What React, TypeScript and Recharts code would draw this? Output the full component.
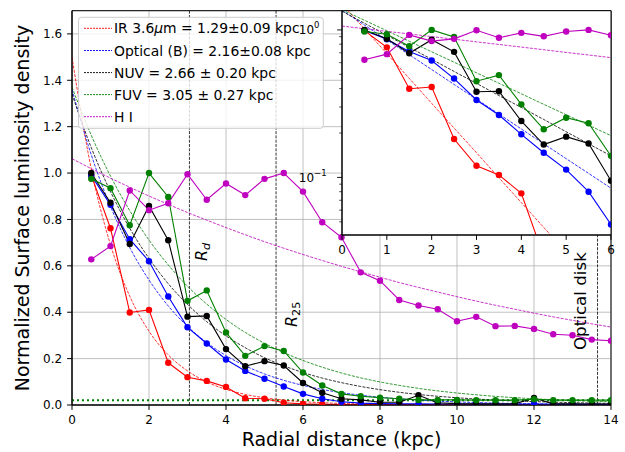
import React from 'react';
import { LineChart, Line, XAxis, YAxis, CartesianGrid, ReferenceLine, ReferenceArea } from 'recharts';

// ---- data ----
const radii = [0.5, 1, 1.5, 2, 2.5, 3, 3.5, 4, 4.5, 5, 5.5, 6, 6.5, 7, 7.5, 8, 8.5, 9, 9.5, 10, 10.5, 11, 11.5, 12, 12.5, 13, 13.5, 14];
const irValues = [0.99, 0.762, 0.399, 0.41, 0.182, 0.12, 0.104, 0.078, 0.029, 0.027, 0.0095, 0.005, 0.003, 0.002, 0.002, 0.0015, 0.0015, 0.001, 0.001, 0.001, 0.001, 0.001, 0.001, 0.001, 0.001, 0.001, 0.001, 0.001];
const opticalValues = [0.99, 0.863, 0.715, 0.62, 0.468, 0.335, 0.265, 0.196, 0.147, 0.113, 0.08, 0.048, 0.027, 0.014, 0.008, 0.006, 0.005, 0.005, 0.004, 0.004, 0.004, 0.003, 0.003, 0.004, 0.003, 0.003, 0.003, 0.003];
const nuvValues = [1.0, 0.872, 0.694, 0.858, 0.71, 0.381, 0.384, 0.241, 0.167, 0.189, 0.17, 0.095, 0.053, 0.027, 0.022, 0.012, 0.012, 0.042, 0.01, 0.006, 0.005, 0.005, 0.005, 0.03, 0.005, 0.005, 0.004, 0.004];
const fuvValues = [0.975, 0.935, 0.775, 1.0, 0.897, 0.449, 0.494, 0.313, 0.212, 0.254, 0.233, 0.14, 0.084, 0.048, 0.038, 0.032, 0.027, 0.022, 0.022, 0.022, 0.021, 0.021, 0.021, 0.025, 0.021, 0.021, 0.021, 0.021];
const hiValues = [0.628, 0.685, 0.925, 0.84, 0.87, 0.995, 0.885, 0.955, 0.905, 0.975, 1.0, 0.92, 0.788, 0.723, 0.572, 0.536, 0.453, 0.429, 0.413, 0.361, 0.38, 0.34, 0.341, 0.328, 0.305, 0.301, 0.282, 0.277];

// fitted exponential profiles, read at 0.5 kpc steps
const fitRadii = [0, 0.5, 1, 1.5, 2, 2.5, 3, 3.5, 4, 4.5, 5, 5.5, 6, 6.5, 7, 7.5, 8, 8.5, 9, 9.5, 10, 10.5, 11, 11.5, 12, 12.5, 13, 13.5, 14];
const irFit = [1.5, 1.018, 0.691, 0.469, 0.318, 0.216, 0.147, 0.0995, 0.0675, 0.0458, 0.0311, 0.0211, 0.0143, 0.0097, 0.0066, 0.0045, 0.003, 0.002, 0.0014, 0.001, 0.0007, 0.0005, 0.0003, 0.0002, 0.0002, 0.0001, 0.0001, 0.0001, 0.0001];
const opticalFit = [1.36, 1.079, 0.856, 0.679, 0.539, 0.427, 0.339, 0.269, 0.213, 0.169, 0.134, 0.1065, 0.0845, 0.067, 0.0532, 0.0422, 0.0335, 0.0265, 0.0211, 0.0167, 0.0133, 0.0105, 0.0083, 0.0066, 0.0053, 0.0042, 0.0033, 0.0026, 0.0021];
const nuvFit = [1.34, 1.11, 0.92, 0.762, 0.632, 0.523, 0.434, 0.359, 0.298, 0.247, 0.204, 0.169, 0.14, 0.116, 0.0964, 0.0799, 0.0662, 0.0548, 0.0454, 0.0377, 0.0312, 0.0259, 0.0214, 0.0178, 0.0147, 0.0122, 0.0101, 0.0084, 0.0069];
const fuvFit = [1.37, 1.163, 0.987, 0.838, 0.711, 0.604, 0.512, 0.435, 0.369, 0.313, 0.266, 0.226, 0.192, 0.163, 0.138, 0.117, 0.0995, 0.0845, 0.0717, 0.0609, 0.0517, 0.0439, 0.0372, 0.0316, 0.0268, 0.0228, 0.0193, 0.0164, 0.0139];
const hiFit = [1.062, 1.019, 0.978, 0.939, 0.901, 0.865, 0.83, 0.797, 0.765, 0.734, 0.704, 0.676, 0.649, 0.623, 0.598, 0.574, 0.551, 0.528, 0.507, 0.487, 0.467, 0.448, 0.43, 0.413, 0.396, 0.38, 0.365, 0.35, 0.336];

const skyLevel = 0.021;
const rdRadius = 3.05;
const r25Radius = 5.3;
const opticalDiskRadius = 13.65;

const mainXTicks = [0, 2, 4, 6, 8, 10, 12, 14];
const mainYTicks = [0, 0.2, 0.4, 0.6, 0.8, 1.0, 1.2, 1.4, 1.6];
const insetXTicks = [0, 1, 2, 3, 4, 5, 6];
const insetYTicks = [0.05, 0.06, 0.07, 0.08, 0.09, 0.1, 0.2, 0.3, 0.4, 0.5, 0.6, 0.7, 0.8, 0.9, 1];
const insetMajorTicks = [1, 0.1];
const insetMajorLabels = ['0', '\u22121'];

const legendLabels = ['IR 3.6\u03bcm = 1.29\u00b10.09 kpc', 'Optical (B) = 2.16\u00b10.08 kpc', 'NUV = 2.66 \u00b1 0.20 kpc', 'FUV = 3.05 \u00b1 0.27 kpc', 'H I'];
const xLabel = 'Radial distance (kpc)';
const yLabel = 'Normalized Surface luminosity density';

const seriesKeys = ['ir', 'opt', 'nuv', 'fuv', 'hi'];
const seriesColors = ['#ff0000', '#0000ff', '#000000', '#008000', '#bf00bf'];
const seriesData = [irValues, opticalValues, nuvValues, fuvValues, hiValues];
const seriesFits = [irFit, opticalFit, nuvFit, fuvFit, hiFit];

const FONT = 'DejaVu Sans';

function buildRows(maxR: number) {
  const map = new Map<number, any>();
  const put = (r: number, key: string, v: number) => {
    if (r > maxR) return;
    const row = map.get(r) ?? { r };
    row[key] = v;
    map.set(r, row);
  };
  seriesKeys.forEach((k, s) => {
    radii.forEach((r, i) => put(r, k, seriesData[s][i]));
    fitRadii.forEach((r, i) => put(r, k + 'Fit', seriesFits[s][i]));
  });
  return Array.from(map.values()).sort((a, b) => a.r - b.r);
}

const mainRows = buildRows(14);
const insetRows = buildRows(6);

function renderSeries(prefix: string) {
  const out: any[] = [];
  seriesKeys.forEach((k, s) => {
    out.push(
      <Line
        key={prefix + k}
        dataKey={k}
        type="linear"
        stroke={seriesColors[s]}
        strokeWidth={1.1}
        dot={{ r: 3.2, fill: seriesColors[s], stroke: seriesColors[s], strokeWidth: 0 }}
        activeDot={false}
        isAnimationActive={false}
      />
    );
    out.push(
      <Line
        key={prefix + k + 'Fit'}
        dataKey={k + 'Fit'}
        type="monotone"
        stroke={seriesColors[s]}
        strokeWidth={0.8}
        strokeDasharray="3 1.3"
        dot={false}
        activeDot={false}
        isAnimationActive={false}
      />
    );
  });
  return out;
}

const tickStyle = { fontSize: 12, fill: '#000', fontFamily: FONT };

const InsetYTick = (props: any) => {
  const { x, y, payload } = props;
  const v = payload.value;
  const idx = insetMajorTicks.findIndex((m) => Math.abs(m - v) < 1e-9);
  const major = idx >= 0;
  return (
    <g>
      <line x1={x - (major ? 4.9 : 2.8)} x2={x} y1={y} y2={y} stroke="#000" strokeWidth={major ? 0.9 : 0.7} />
      {major && (
        <text x={x - 43.2} y={y + 4.3} fontSize={12} fontFamily={FONT} fill="#000">
          10
          <tspan dy={-6} fontSize={8.5}>{insetMajorLabels[idx]}</tspan>
        </text>
      )}
    </g>
  );
};

function LegendAndText() {
  const rowY = [28.3, 50.5, 72.6, 94.6, 116.7];
  return (
    <svg width={625} height={452} style={{ position: 'absolute', left: 0, top: 0 }}>
      <rect x={78.5} y={17.3} width={244.8} height={111} rx={3} fill="#fff" fillOpacity={0.8} stroke="#cccccc" strokeWidth={1} />
      {legendLabels.map((lab, i) => {
        const parts = lab.split('\u03bc');
        return (
          <g key={lab}>
            <line x1={84} x2={112} y1={rowY[i]} y2={rowY[i]} stroke={seriesColors[i]} strokeWidth={0.9} strokeDasharray="2 1" />
            <text x={114} y={rowY[i] + 5} fontSize={13.9} fontFamily={FONT} fill="#000">
              {parts.length > 1 ? (
                <>
                  {parts[0]}
                  <tspan fontStyle="italic">{'\u03bc'}</tspan>
                  {parts[1]}
                </>
              ) : (
                lab
              )}
            </text>
          </g>
        );
      })}
      <text x={29} y={208} transform="rotate(-90 29 208)" textAnchor="middle" fontSize={19} fontFamily={FONT} fill="#000">
        {yLabel}
      </text>
      <text x={341.5} y={446} textAnchor="middle" fontSize={19} fontFamily={FONT} fill="#000">
        {xLabel}
      </text>
      <text x={207} y={261} transform="rotate(-90 207 261)" fontSize={16} fontFamily={FONT} fill="#000">
        <tspan fontStyle="italic">R</tspan>
        <tspan fontStyle="italic" fontSize={11.2} dy={3}>d</tspan>
      </text>
      <text x={297} y={327} transform="rotate(-90 297 327)" fontSize={16} fontFamily={FONT} fill="#000">
        <tspan fontStyle="italic">R</tspan>
        <tspan fontSize={11.2} dy={3}>25</tspan>
      </text>
      <text x={585.7} y={350} transform="rotate(-90 585.7 350)" fontSize={16.7} fontFamily={FONT} fill="#000">
        Optical disk
      </text>
    </svg>
  );
}

export default function App() {
  return (
    <div style={{ position: 'fixed', left: 0, top: 0, width: 625, height: 452, background: '#fff', fontFamily: FONT }}>
      <div style={{ position: 'absolute', left: 0, top: 0 }}>
        <LineChart width={625} height={452} data={mainRows} margin={{ top: 10.7, right: 14, bottom: 0, left: 0 }}>
          <CartesianGrid stroke="#b0b0b0" strokeWidth={0.8} />
          <XAxis
            type="number"
            dataKey="r"
            domain={[0, 14]}
            ticks={mainXTicks}
            interval={0}
            allowDataOverflow
            height={47}
            tick={tickStyle}
            tickSize={4.9}
            tickMargin={5.8}
            tickLine={{ stroke: '#000' }}
            axisLine={{ stroke: '#000' }}
          />
          <YAxis
            type="number"
            domain={[0, 1.7]}
            ticks={mainYTicks}
            interval={0}
            allowDataOverflow
            width={72}
            tick={tickStyle}
            tickFormatter={(v: number) => v.toFixed(1)}
            tickSize={4.9}
            tickMargin={5}
            tickLine={{ stroke: '#000' }}
            axisLine={{ stroke: '#000' }}
          />
          <ReferenceLine x={rdRadius} stroke="#000" strokeWidth={0.8} strokeDasharray="3 1.3" />
          <ReferenceLine x={r25Radius} stroke="#000" strokeWidth={0.8} strokeDasharray="3 1.3" />
          <ReferenceLine x={opticalDiskRadius} stroke="#000" strokeWidth={0.8} strokeDasharray="3 1.3" />
          <ReferenceLine y={skyLevel} stroke="#008000" strokeWidth={2} strokeDasharray="2 3" />
          {renderSeries('m')}
          <ReferenceArea x1={0} x2={14} y1={0} y2={1.7} fill="none" stroke="#000" strokeWidth={1} ifOverflow="visible" />
        </LineChart>
      </div>
      <LegendAndText />
      <div style={{ position: 'absolute', left: 0, top: 0 }}>
        <LineChart width={625} height={452} data={insetRows} margin={{ top: 10.7, right: 14, bottom: 0, left: 0 }}>
          <CartesianGrid fill="#fff" horizontal={false} vertical={false} />
          <XAxis
            type="number"
            dataKey="r"
            domain={[0, 6]}
            ticks={insetXTicks}
            interval={0}
            allowDataOverflow
            height={217}
            tick={tickStyle}
            tickSize={4.9}
            tickMargin={5.8}
            tickLine={{ stroke: '#000' }}
            axisLine={{ stroke: '#000' }}
          />
          <YAxis
            type="number"
            scale="log"
            domain={[0.0407, 1.35]}
            ticks={insetYTicks}
            interval={0}
            allowDataOverflow
            width={342}
            tick={<InsetYTick />}
            tickLine={false}
            tickSize={0}
            tickMargin={0}
            axisLine={{ stroke: '#000' }}
          />
          {renderSeries('i')}
          <ReferenceArea x1={0} x2={6} y1={0.0407} y2={1.35} fill="none" stroke="#000" strokeWidth={1} ifOverflow="visible" />
        </LineChart>
      </div>
    </div>
  );
}
